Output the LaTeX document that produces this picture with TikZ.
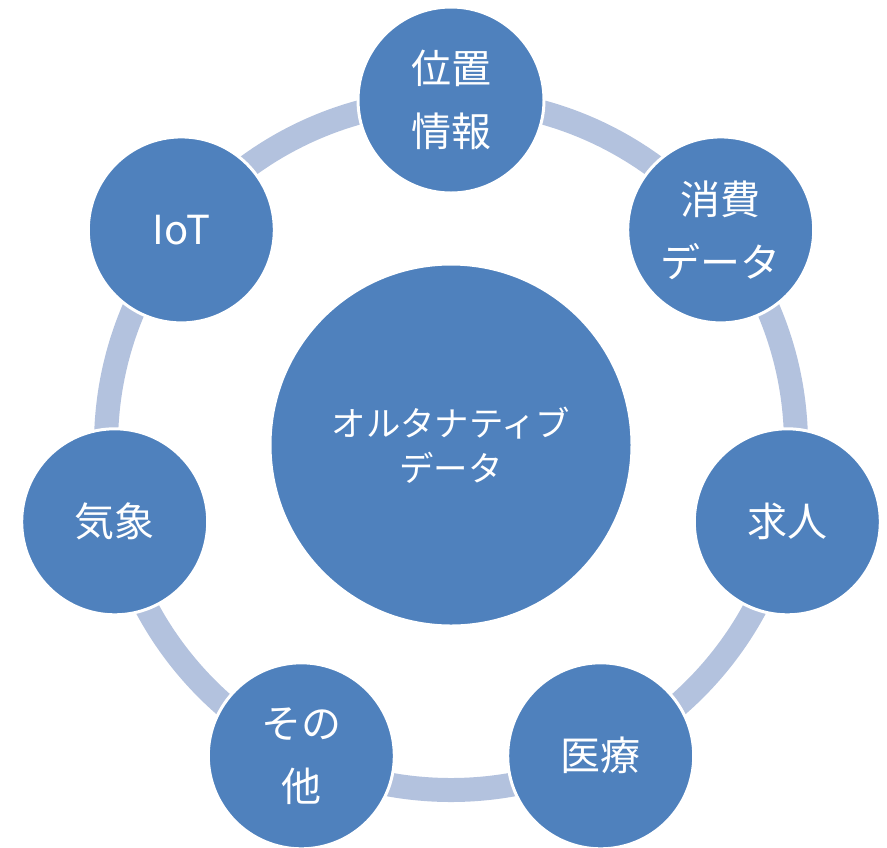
\documentclass[tikz,border=0pt]{standalone}
\usepackage{fontspec}
\setmainfont{Noto Sans CJK JP}
\definecolor{bubble}{HTML}{4F81BD}
\definecolor{ringblue}{HTML}{B3C2DE}
\tikzset{
    item/.style={circle, fill=bubble, draw=white, line width=1.5pt, minimum size=93pt,
        inner sep=0pt, text=white, align=center, font=\fontsize{20}{31.5}\selectfont},
    hub/.style={item, minimum size=181pt, font=\fontsize{17.2}{22.5}\selectfont},
    ring/.style={draw=ringblue, line width=12pt}
}
\begin{document}
\begin{tikzpicture}[x=0.5pt, y=-0.5pt]
        \useasboundingbox (0,0) rectangle (887,847);

        \node[hub] (alt) at (451,445) {オルタナティブ\\データ};

        \draw[ring] (alt.center) circle[radius=172.5pt];

        \node[item] (loc) at (451,100) {位置\\情報};
        \node[item] (spend) at (720.7,229.9) {消費\\データ};
        \node[item] (jobs) at (787.3,521.8) {求人};
        \node[item] (med) at (600.7,755.8) {医療};
        \node[item] (other) at (301.3,755.8) {その\\他};
        \node[item] (wthr) at (114.7,521.8) {気象};
        \node[item] (iot) at (181.3,229.9) {IoT};
    \end{tikzpicture}
\end{document}
